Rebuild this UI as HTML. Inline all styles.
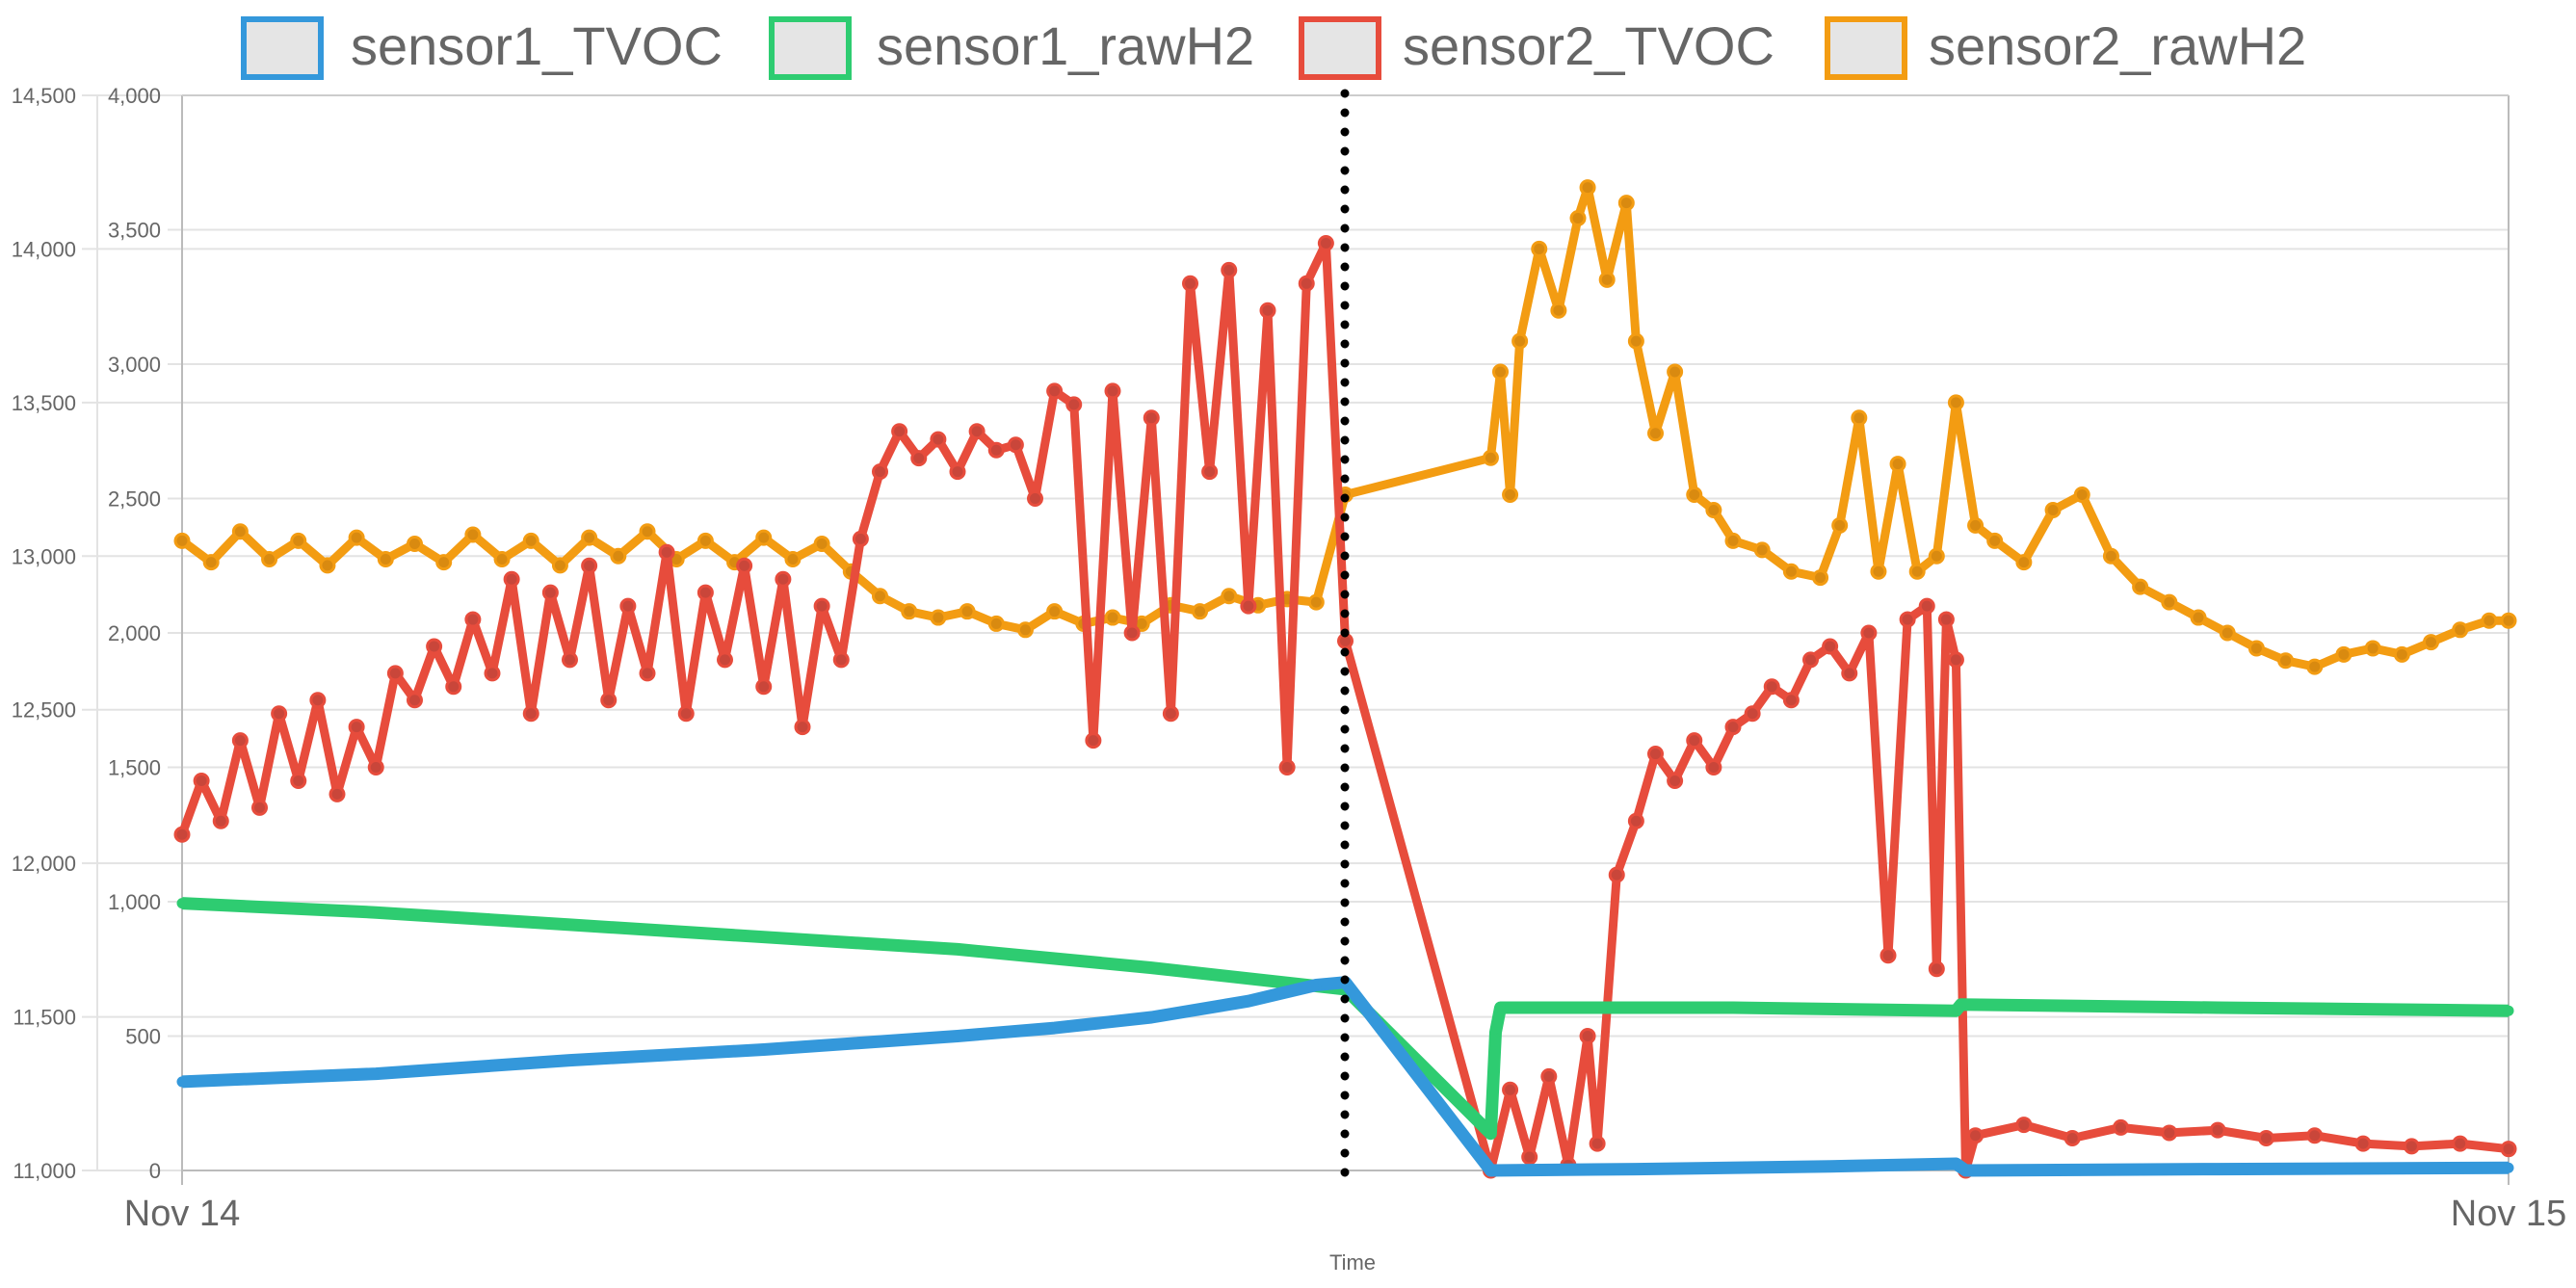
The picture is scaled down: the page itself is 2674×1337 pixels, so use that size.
<!DOCTYPE html>
<html><head><meta charset="utf-8"><style>
html,body{margin:0;padding:0;background:#fff;}
svg{display:block;font-family:"Liberation Sans",Arial,sans-serif;}
</style></head><body>
<svg id="chart" width="2674" height="1337" viewBox="0 0 2674 1337" xmlns="http://www.w3.org/2000/svg">
<g id="grid"></g>
<g id="axes"></g>
<g id="series"></g>
<g>
 <g><rect x="253" y="20" width="80" height="60" fill="#e5e5e5" stroke="#3498db" stroke-width="6"/><text x="364" y="67" font-size="56" fill="#666">sensor1_TVOC</text></g>
 <g><rect x="801" y="20" width="80" height="60" fill="#e5e5e5" stroke="#2ecc71" stroke-width="6"/><text x="910" y="67" font-size="56" fill="#666">sensor1_rawH2</text></g>
 <g><rect x="1351" y="20" width="80" height="60" fill="#e5e5e5" stroke="#e74c3c" stroke-width="6"/><text x="1456" y="67" font-size="56" fill="#666">sensor2_TVOC</text></g>
 <g><rect x="1897" y="20" width="80" height="60" fill="#e5e5e5" stroke="#f39c12" stroke-width="6"/><text x="2002" y="67" font-size="56" fill="#666">sensor2_rawH2</text></g>
</g>
<line x1="1396" y1="97" x2="1396" y2="1232" stroke="#000" stroke-width="9" stroke-linecap="round" stroke-dasharray="0 20"/>
<text x="1404" y="1318" font-size="22" fill="#666" text-anchor="middle">Time</text>
</svg>
<script>
// ---- data (hours since Nov 14 00:00) ----
const tvocTicks=[0,500,1000,1500,2000,2500,3000,3500,4000];
const h2Ticks=[11000,11500,12000,12500,13000,13500,14000,14500];
const xTickLabels=["Nov 14","Nov 15"];
const s1TvocT=[0,2,4,6,8,9,10,11,11.7,12,13.5,15,17,18.3,18.4,21,24];
const s1TvocV=[330,360,410,450,500,530,570,630,690,700,0,5,15,25,0,5,10];
const s1H2T=[0,2,4,6,8,10,12,13.5,13.55,13.6,16,18.3,18.35,21,24];
const s1H2V=[11870,11840,11800,11760,11720,11660,11590,11120,11450,11530,11530,11520,11540,11530,11520];
const s2TvocT=[0,0.2,0.4,0.6,0.8,1.0,1.2,1.4,1.6,1.8,2.0,2.2,2.4,2.6,2.8,3.0,3.2,3.4,3.6,3.8,4.0,4.2,4.4,4.6,4.8,5.0,5.2,5.4,5.6,5.8,6.0,6.2,6.4,6.6,6.8,7.0,7.2,7.4,7.6,7.8,8.0,8.2,8.4,8.6,8.8,9.0,9.2,9.4,9.6,9.8,10.0,10.2,10.4,10.6,10.8,11.0,11.2,11.4,11.6,11.8,12.0,13.5,13.7,13.9,14.1,14.3,14.5,14.6,14.8,15.0,15.2,15.4,15.6,15.8,16.0,16.2,16.4,16.6,16.8,17.0,17.2,17.4,17.6,17.8,18.0,18.1,18.2,18.3,18.4,18.5,19,19.5,20,20.5,21,21.5,22,22.5,23,23.5,24];
const s2TvocV=[1250,1450,1300,1600,1350,1700,1450,1750,1400,1650,1500,1850,1750,1950,1800,2050,1850,2200,1700,2150,1900,2250,1750,2100,1850,2300,1700,2150,1900,2250,1800,2200,1650,2100,1900,2350,2600,2750,2650,2720,2600,2750,2680,2700,2500,2900,2850,1600,2900,2000,2800,1700,3300,2600,3350,2100,3200,1500,3300,3450,1970,0,300,50,350,20,500,100,1100,1300,1550,1450,1600,1500,1650,1700,1800,1750,1900,1950,1850,2000,800,2050,2100,750,2050,1900,0,130,170,120,160,140,150,120,130,100,90,100,80];
const s2H2T=[0,0.3,0.6,0.9,1.2,1.5,1.8,2.1,2.4,2.7,3.0,3.3,3.6,3.9,4.2,4.5,4.8,5.1,5.4,5.7,6.0,6.3,6.6,6.9,7.2,7.5,7.8,8.1,8.4,8.7,9.0,9.3,9.6,9.9,10.2,10.5,10.8,11.1,11.4,11.7,12.0,13.5,13.6,13.7,13.8,14.0,14.2,14.4,14.5,14.7,14.9,15.0,15.2,15.4,15.6,15.8,16.0,16.3,16.6,16.9,17.1,17.3,17.5,17.7,17.9,18.1,18.3,18.5,18.7,19.0,19.3,19.6,19.9,20.2,20.5,20.8,21.1,21.4,21.7,22.0,22.3,22.6,22.9,23.2,23.5,23.8,24];
const s2H2V=[13050,12980,13080,12990,13050,12970,13060,12990,13040,12980,13070,12990,13050,12970,13060,13000,13080,12990,13050,12980,13060,12990,13040,12950,12870,12820,12800,12820,12780,12760,12820,12780,12800,12780,12840,12820,12870,12840,12860,12850,13200,13320,13600,13200,13700,14000,13800,14100,14200,13900,14150,13700,13400,13600,13200,13150,13050,13020,12950,12930,13100,13450,12950,13300,12950,13000,13500,13100,13050,12980,13150,13200,13000,12900,12850,12800,12750,12700,12660,12640,12680,12700,12680,12720,12760,12790,12790];

// ---- scales ----
const X0=189,X1=2604,Y0=99,Y1=1215;
const xs=h=>X0+h/24*(X1-X0);
const yT=v=>Y1-v/4000*(Y1-Y0);
const yH=v=>Y1-(v-11000)/3500*(Y1-Y0);
const NS="http://www.w3.org/2000/svg";
function mk(tag,attrs,parent){const e=document.createElementNS(NS,tag);for(const k in attrs)e.setAttribute(k,attrs[k]);parent.appendChild(e);return e;}
const grid=document.getElementById('grid'),axes=document.getElementById('axes'),ser=document.getElementById('series');

tvocTicks.forEach(v=>{
 const y=yT(v);
 const g=mk('line',{x1:174,x2:X1,y1:y,y2:y,stroke:'#e3e3e3','stroke-width':2},grid);
 
 
 const t=mk('text',{x:167,y:y+8,'font-size':22,fill:'#666','text-anchor':'end'},axes);
 t.textContent=v.toLocaleString('en-US');
 
 
});
h2Ticks.forEach(v=>{
 const y=yH(v);
 const g=mk('line',{x1:85,x2:X1,y1:y,y2:y,stroke:'#e3e3e3','stroke-width':2},grid);
 
 
 const t=mk('text',{x:79,y:y+8,'font-size':22,fill:'#666','text-anchor':'end'},axes);
 t.textContent=v.toLocaleString('en-US');
 
 
});
let a=mk('line',{x1:101,x2:101,y1:Y0,y2:Y1,stroke:'#e3e3e3','stroke-width':2},axes);


a=mk('line',{x1:X0,x2:X0,y1:Y0,y2:Y1+15,stroke:'#bbb','stroke-width':2},axes);


a=mk('line',{x1:X1,x2:X1,y1:Y0,y2:Y1+15,stroke:'#bbb','stroke-width':2},axes);


a=mk('line',{x1:X0,x2:X1,y1:Y1,y2:Y1,stroke:'#bbb','stroke-width':2},axes);


a=mk('line',{x1:X0,x2:X1,y1:Y0,y2:Y0,stroke:'#ccc','stroke-width':2},axes);


[0,24].forEach((h,i)=>{
 const t=mk('text',{x:xs(h),y:1272,'font-size':38,fill:'#666','text-anchor':'middle'},axes);
 t.textContent=xTickLabels[i];
 
 
});

function drawSeries(T,V,yf,color,name,r,w,fill){
 const g=mk('g',{},ser);
 
 
 const d=T.map((t,i)=>(i?'L':'M')+xs(t).toFixed(1)+' '+yf(V[i]).toFixed(1)).join(' ');
 const p=mk('path',{d:d,fill:'none',stroke:color,'stroke-width':w,'stroke-linejoin':'round'},g);
 
 
 T.forEach((t,i)=>{
  const c=mk('circle',{cx:xs(t),cy:yf(V[i]),r:r,fill:fill,stroke:color,'stroke-width':3},g);
  
  
 });
}
drawSeries(s2H2T,s2H2V,yH,'#f39c12','sensor2-rawh2',7,9,'#d98a10');
drawSeries(s2TvocT,s2TvocV,yT,'#e74c3c','sensor2-tvoc',7,9,'#c9463a');
drawSeries(s1H2T,s1H2V,yH,'#2ecc71','sensor1-rawh2',4,13,'#2ecc71');
drawSeries(s1TvocT,s1TvocV,yT,'#3498db','sensor1-tvoc',4,13,'#3498db');
</script>
</body></html>
